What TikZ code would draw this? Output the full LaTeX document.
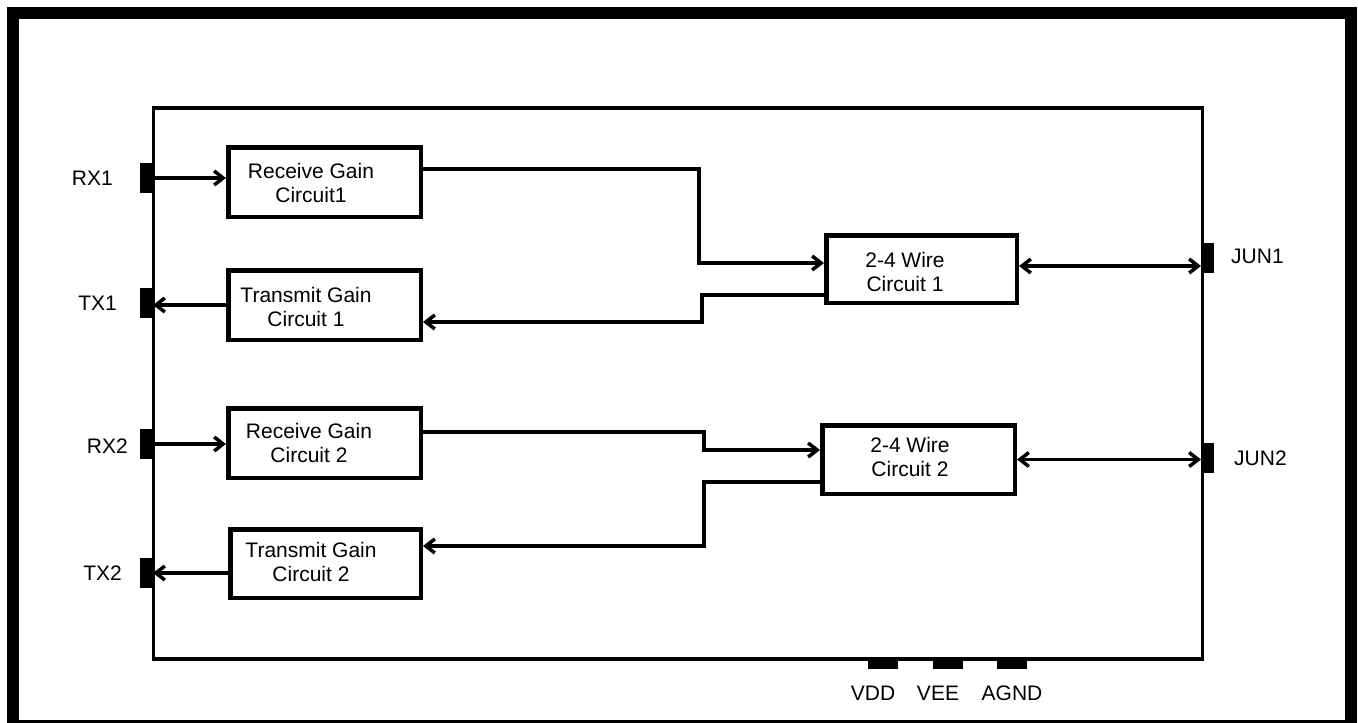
\documentclass[tikz,border=0pt]{standalone}
\usepackage{fontspec}
\setmainfont{Liberation Sans}
\usetikzlibrary{positioning,arrows.meta}

\begin{document}
\begin{tikzpicture}[
    x=1pt,
    y=-1pt,
    font=\fontsize{21}{24}\selectfont,
    gainbox/.style={
        draw,
        line width=4.5pt,
        minimum width=192.5pt,
        minimum height=69.5pt,
        inner sep=0pt
    },
    boxtext/.style={align=center, inner sep=0pt},
    pinblock/.style={
        fill,
        inner sep=0pt,
        outer sep=0pt,
        minimum width=13pt,
        minimum height=30pt
    },
    footpin/.style={pinblock, minimum width=30pt, minimum height=10pt},
    pinlabel/.style={inner sep=0pt},
    sigline/.style={
        line width=3.5pt,
        -{Straight Barb[length=9pt,width=14pt]}
    },
    jnline/.style={
        line width=3.5pt,
        {Straight Barb[length=9pt,width=14pt]}-{Straight Barb[length=9pt,width=14pt]}
    }
]

% Outer frame, cut off at the bottom edge
\useasboundingbox (0,0) rectangle (1358,723);
\draw[line width=12pt] (13,12.5) rectangle (1350.5,726);

% Chip outline
\draw[line width=3.5pt] (153.5,108) rectangle (1202.5,659);

% Pins
\node[pinblock] (rx1) at (146.5,178) {};
\node[pinblock] (tx1) at (146.5,303) {};
\node[pinblock] (rx2) at (146.5,444) {};
\node[pinblock] (tx2) at (146.5,573) {};
\node[pinblock] (jun1) at (1207.5,258) {};
\node[pinblock] (jun2) at (1207.5,458) {};
\node[footpin] (vdd) at (883,664) {};
\node[footpin] (vee) at (947.5,664) {};
\node[footpin] (agnd) at (1012,664) {};

% Pin names
\node[pinlabel, left=27pt of rx1] (rx1-l) {RX1};
\node[pinlabel, left=23pt of tx1] (tx1-l) {TX1};
\node[pinlabel, left=12pt of rx2, yshift=-2pt] (rx2-l) {RX2};
\node[pinlabel, left=18pt of tx2] (tx2-l) {TX2};
\node[pinlabel, right=17pt of jun1, yshift=2pt] (jun1-l) {JUN1};
\node[pinlabel, right=20pt of jun2] (jun2-l) {JUN2};
\node[pinlabel, below=17pt of vdd, xshift=-10pt] (vdd-l) {VDD};
\node[pinlabel, below=17pt of vee, xshift=-9.5pt] (vee-l) {VEE};
\node[pinlabel, below=17pt of agnd] (agnd-l) {AGND};

% Gain blocks
\node[gainbox, label={[boxtext, xshift=-13.5pt, yshift=-1pt]center:{Receive Gain\\Circuit1}}]
    (rxa) at (324.5,182) {};
\node[gainbox, label={[boxtext, xshift=-18.5pt, yshift=-2pt]center:{Transmit Gain\\Circuit 1}}]
    (txa) at (324.5,305) {};
\node[gainbox, label={[boxtext, xshift=-15.5pt]center:{Receive Gain\\Circuit 2}}]
    (rxb) at (324.5,443) {};
\node[gainbox, minimum width=190.5pt, minimum height=68.5pt,
    label={[boxtext, xshift=-14.5pt, yshift=1.5pt]center:{Transmit Gain\\Circuit 2}}]
    (txb) at (325.5,563.5) {};

% Hybrid blocks
\node[gainbox, minimum width=190.5pt, minimum height=67.5pt,
    label={[boxtext, xshift=-16.5pt, yshift=-3pt]center:{2-4 Wire\\Circuit 1}}]
    (hyba) at (921.5,269) {};
\node[gainbox, minimum height=68.5pt,
    label={[boxtext, xshift=-8.5pt, yshift=3pt]center:{2-4 Wire\\Circuit 2}}]
    (hybb) at (918.5,459.5) {};

% Pin connections
\draw[sigline] (rx1.east) -- (rx1.east -| rxa.west);
\draw[sigline] (txa.west) -- (txa.west -| tx1.east);
\draw[sigline] (rx2.east) -- (rx2.east -| rxb.west);
\draw[sigline] (tx2.east -| txb.west) -- (tx2.east);

% Gain to hybrid paths
\draw[sigline] ([yshift=13pt]rxa.east) -- ++(276,0) |- ([yshift=6pt]hyba.west);
\draw[sigline] ([yshift=-26pt]hyba.west) -- ++(-122,0) |- ([yshift=-17pt]txa.east);
\draw[sigline] ([yshift=11pt]rxb.east) -- ++(281,0) |- ([yshift=9.5pt]hybb.west);
\draw[sigline] ([yshift=-22.5pt]hybb.west) -- ++(-116,0) |- ([yshift=17.5pt]txb.east);

% Junction lines
\draw[jnline] ([yshift=3pt]hyba.east) -- ([yshift=3pt]hyba.east -| jun1.west);
\draw[jnline] (hybb.east) -- (hybb.east -| jun2.west);

\end{tikzpicture}
\end{document}
